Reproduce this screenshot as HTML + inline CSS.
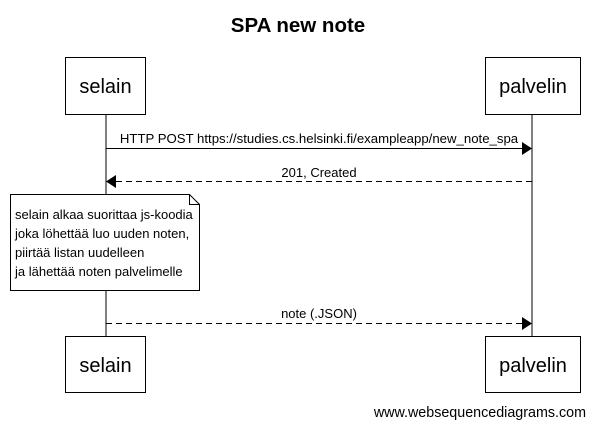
<!DOCTYPE html>
<html><head><meta charset="utf-8"><style>
body{margin:0;background:#fff;width:594px;height:428px;overflow:hidden}
</style></head><body>
<svg width="594" height="428" xmlns="http://www.w3.org/2000/svg" font-family="Liberation Sans, Arial, sans-serif">
<rect width="594" height="428" fill="#fff"/>
<text x="298" y="32" font-size="20.5" font-weight="bold" text-anchor="middle">SPA new note</text>
<line x1="106" y1="114" x2="106" y2="336" stroke="#000"/>
<line x1="532" y1="114" x2="532" y2="336" stroke="#000"/>
<rect x="65.5" y="57.5" width="80" height="57" fill="#fff" stroke="#000"/>
<text x="105.5" y="93" font-size="20" text-anchor="middle">selain</text>
<rect x="485.5" y="57.5" width="95" height="57" fill="#fff" stroke="#000"/>
<text x="533" y="93" font-size="20" text-anchor="middle">palvelin</text>
<rect x="65.5" y="336.5" width="80" height="56" fill="#fff" stroke="#000"/>
<text x="105.5" y="372" font-size="20" text-anchor="middle">selain</text>
<rect x="485.5" y="336.5" width="95" height="56" fill="#fff" stroke="#000"/>
<text x="533" y="372" font-size="20" text-anchor="middle">palvelin</text>
<line x1="106" y1="148.5" x2="522" y2="148.5" stroke="#000"/>
<polygon points="532,148.5 522,142 522,155" fill="#000"/>
<text x="319" y="143" font-size="13.2" text-anchor="middle">HTTP POST https://studies.cs.helsinki.fi/exampleapp/new_note_spa</text>
<line x1="116" y1="181.5" x2="532" y2="181.5" stroke="#000" stroke-dasharray="6,4"/>
<polygon points="106,181.5 116,175 116,188" fill="#000"/>
<text x="319" y="177" font-size="13" text-anchor="middle">201, Created</text>
<polygon points="10.5,194.5 189.5,194.5 199.5,204.5 199.5,290.5 10.5,290.5" fill="#fff" stroke="#000"/>
<polyline points="189.5,194.5 189.5,204.5 199.5,204.5" fill="none" stroke="#000"/>
<g font-size="13"><text x="15" y="219">selain alkaa suorittaa js-koodia</text>
<text x="15" y="238">joka löhettää luo uuden noten,</text>
<text x="15" y="257">piirtää listan uudelleen</text>
<text x="15" y="276">ja lähettää noten palvelimelle</text></g>
<line x1="106" y1="323.5" x2="522" y2="323.5" stroke="#000" stroke-dasharray="6,4"/>
<polygon points="532,323.5 522,317 522,330" fill="#000"/>
<text x="319" y="318" font-size="13" text-anchor="middle">note (.JSON)</text>
<text x="586" y="417" font-size="14.3" text-anchor="end">www.websequencediagrams.com</text>
</svg>
</body></html>
